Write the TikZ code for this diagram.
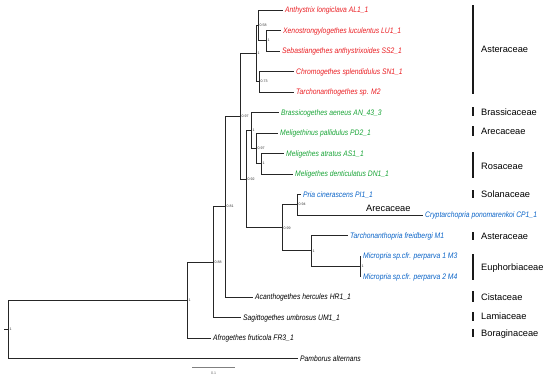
\documentclass[tikz,border=0pt]{standalone}
\usepackage{fontspec}
\setmainfont{Liberation Sans}
\newfontfamily\leaffont[FakeStretch=0.85]{Liberation Sans}
\definecolor{tred}{RGB}{235,30,35}
\definecolor{tgreen}{RGB}{25,165,55}
\definecolor{tblue}{RGB}{10,100,200}
\begin{document}
\begin{tikzpicture}[x=1bp,y=-1bp,
  br/.style={draw=black!85, line width=0.95bp},
  leaf/.style={anchor=west, inner xsep=2bp, inner ysep=0pt, text height=5.8bp, text depth=0pt, font=\leaffont\fontsize{8}{9}\selectfont\itshape},
  nl/.style={anchor=west, inner sep=0pt, xshift=1.5bp, font=\fontsize{3.6}{4}\selectfont, text=black!80},
  fam/.style={anchor=west, inner sep=0pt, text height=6.8bp, text depth=0pt, font=\fontsize{9.3}{11}\selectfont},
  fbar/.style={draw=black!90, line width=1.1bp}]
\useasboundingbox (0,0) rectangle (550,375);
\fill[white] (0,0) rectangle (550,375);
% leaves
\node[leaf,text=tred] (AL1) at (283,10) {Anthystrix longiclava AL1\_1};
\node[leaf,text=tred] (LU1) at (281,30.5) {Xenostrongylogethes luculentus LU1\_1};
\node[leaf,text=tred] (SS2) at (280,51) {Sebastiangethes anthystrixoides SS2\_1};
\node[leaf,text=tred] (SN1) at (294,71.5) {Chromogethes splendidulus SN1\_1};
\node[leaf,text=tred] (M2) at (294,92) {Tarchonanthogethes sp. M2};
\node[leaf,text=tgreen] (AN43) at (279,112.5) {Brassicogethes aeneus AN\_43\_3};
\node[leaf,text=tgreen] (PD2) at (278,133) {Meligethinus pallidulus PD2\_1};
\node[leaf,text=tgreen] (AS1) at (284,153.5) {Meligethes atratus AS1\_1};
\node[leaf,text=tgreen] (DN1) at (293,174) {Meligethes denticulatus DN1\_1};
\node[leaf,text=tblue] (PI1) at (301,194.5) {Pria cinerascens PI1\_1};
\node[leaf,text=tblue] (CP1) at (423,215) {Cryptarchopria ponomarenkoi CP1\_1};
\node[leaf,text=tblue] (M1) at (348,235.5) {Tarchonanthopria freidbergi M1};
\node[leaf,text=tblue] (M3) at (361,256) {Micropria sp.cfr. perparva 1 M3};
\node[leaf,text=tblue] (M4) at (361,276.5) {Micropria sp.cfr. perparva 2 M4};
\node[leaf] (HR1) at (253,297) {Acanthogethes hercules HR1\_1};
\node[leaf] (UM1) at (241,317.5) {Sagittogethes umbrosus UM1\_1};
\node[leaf] (FR3) at (211,338) {Afrogethes fruticola FR3\_1};
\node[leaf] (PAM) at (298,358.5) {Pamborus alternans};
% internal nodes
\coordinate (R0) at (4,329.3);
\coordinate (R) at (8,329.3);
\coordinate (N1) at (187,300);
\coordinate (N088) at (213,262.1);
\coordinate (N081) at (225,206.7);
\coordinate (E) at (240,116.4);
\coordinate (D) at (256,53.6);
\coordinate (A) at (258,25.4);
\coordinate (B) at (266,40.75);
\coordinate (C) at (259,81.75);
\coordinate (F) at (246,179.1);
\coordinate (G) at (251,130.4);
\coordinate (X) at (256,148.4);
\coordinate (Y) at (261,163.75);
\coordinate (H) at (282,227.8);
\coordinate (P) at (297,204.75);
\coordinate (Q) at (311,250.9);
\coordinate (Z) at (360,266.25);
% branches
\draw[br] (R0) -- (R);
\draw[br] (R) |- (N1);   \draw[br] (R) |- (PAM.west);
\draw[br] (N1) |- (N088); \draw[br] (N1) |- (FR3.west);
\draw[br] (N088) |- (N081); \draw[br] (N088) |- (UM1.west);
\draw[br] (N081) |- (E); \draw[br] (N081) |- (HR1.west);
\draw[br] (E) |- (D); \draw[br] (E) |- (F);
\draw[br] (D) |- (A); \draw[br] (D) |- (C);
\draw[br] (A) |- (AL1.west); \draw[br] (A) |- (B);
\draw[br] (B) |- (LU1.west); \draw[br] (B) |- (SS2.west);
\draw[br] (C) |- (SN1.west); \draw[br] (C) |- (M2.west);
\draw[br] (F) |- (G); \draw[br] (F) |- (H);
\draw[br] (G) |- (AN43.west); \draw[br] (G) |- (X);
\draw[br] (X) |- (PD2.west); \draw[br] (X) |- (Y);
\draw[br] (Y) |- (AS1.west); \draw[br] (Y) |- (DN1.west);
\draw[br] (H) |- (P); \draw[br] (H) |- (Q);
\draw[br] (P) |- (PI1.west); \draw[br] (P) |- (CP1.west);
\draw[br] (Q) |- (M1.west); \draw[br] (Q) |- (Z);
\draw[br] (Z) |- (M3.west); \draw[br] (Z) |- (M4.west);
% support values
\node[nl] (lR) at (R) {1};
\node[nl] (lN1) at (N1) {1};
\node[nl] (lN088) at (N088) {0.88};
\node[nl] (lN081) at (N081) {0.81};
\node[nl] (lE) at (E) {0.97};
\node[nl] (lD) at (D) {1};
\node[nl] (lA) at (A) {0.58};
\node[nl] (lB) at (B) {1};
\node[nl] (lC) at (C) {0.73};
\node[nl] (lF) at (F) {0.92};
\node[nl] (lG) at (G) {1};
\node[nl] (lX) at (X) {0.97};
\node[nl] (lY) at (Y) {1};
\node[nl] (lH) at (H) {0.99};
\node[nl] (lP) at (P) {0.94};
\node[nl] (lQ) at (Q) {1};
\node[nl] (lZ) at (Z) {1};
% inline label
\node[fam, anchor=base west] (arecIn) at (366,211.5) {Arecaceae};
% scale bar
\coordinate (s1) at (192,367);
\coordinate (s2) at (235,367);
\draw[black!50, line width=0.6bp] (s1) -- (s2);
\node[font=\fontsize{3.6}{4}\selectfont, text=black!60, inner sep=0pt] (sl) at (213.5,373) {0.1};
% family bars and labels
\draw[fbar] (473,5) -- (473,94);     \node[fam] (f1) at (481,49) {Asteraceae};
\draw[fbar] (473,107) -- (473,116);  \node[fam] (f2) at (481,112) {Brassicaceae};
\draw[fbar] (473,126) -- (473,136);  \node[fam] (f3) at (481,131) {Arecaceae};
\draw[fbar] (473,152) -- (473,178);  \node[fam] (f4) at (481,166) {Rosaceae};
\draw[fbar] (473,190) -- (473,198);  \node[fam] (f5) at (481,194) {Solanaceae};
\draw[fbar] (473,232) -- (473,240);  \node[fam] (f6) at (481,236) {Asteraceae};
\draw[fbar] (473,254) -- (473,280);  \node[fam] (f7) at (481,267) {Euphorbiaceae};
\draw[fbar] (473,291) -- (473,302);  \node[fam] (f8) at (481,297) {Cistaceae};
\draw[fbar] (473,312) -- (473,321);  \node[fam] (f9) at (481,316) {Lamiaceae};
\draw[fbar] (473,329) -- (473,337);  \node[fam] (f10) at (481,333) {Boraginaceae};
\end{tikzpicture}
\end{document}
